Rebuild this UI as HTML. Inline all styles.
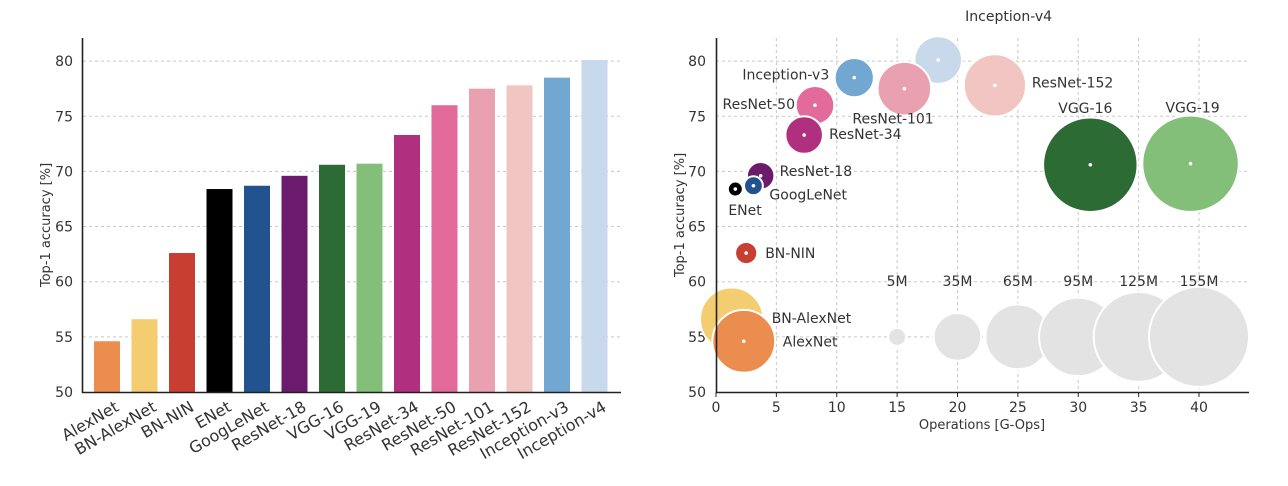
<!DOCTYPE html>
<html><head><meta charset="utf-8"><style>
body{margin:0;background:#fff;}
svg{display:block;font-family:"DejaVu Sans","Liberation Sans",sans-serif;}
</style></head><body>
<svg id="c" width="1288" height="486" viewBox="0 0 1288 486"></svg>
<script>
const models=["AlexNet","BN-AlexNet","BN-NIN","ENet","GoogLeNet","ResNet-18","VGG-16","VGG-19","ResNet-34","ResNet-50","ResNet-101","ResNet-152","Inception-v3","Inception-v4"];
const accuracy=[54.6,56.6,62.6,68.4,68.7,69.6,70.6,70.7,73.3,76.0,77.5,77.8,78.5,80.1];
const gops=[2.3,1.3,2.5,1.6,3.1,3.7,31.0,39.3,7.3,8.2,15.6,23.1,11.45,18.4];
const paramsM=[61,62,7.6,0.37,5.5,11.7,138,144,21.8,23,44.5,60,23.8,35];
const colors=["#ea8d4e","#f3cd6f","#c83f31","#000000","#23538f","#6b1a6c","#2d6b34","#83bf78","#b0307f","#e26b9c","#e9a1b1","#f1c5c1","#71a7d0","#c7d9ea"];
const yTicks=[50,55,60,65,70,75,80];
const xTicks=[0,5,10,15,20,25,30,35,40];
const legendParams=[5,35,65,95,125,155];
const legendLabels=["5M","35M","65M","95M","125M","155M"];
const legendX=[15,20,25,30,35,40];
// label offsets (px) from bubble centre: dx, dy, anchor
const lblOff=[[39,0,"start"],[40,-1,"start"],[19,0,"start"],[-7,21,"start"],[16,9,"start"],[19,-5,"start"],[-5,-57,"middle"],[2,-56,"middle"],[25,-1,"start"],[-20,-1,"end"],[-52,30,"start"],[37,-3,"start"],[-25,-3,"end"],[27,-44,"start"]];

const svg=document.getElementById('c');
const NS="http://www.w3.org/2000/svg";
function mk(t,a,p){const e=document.createElementNS(NS,t);for(const k in a)e.setAttribute(k,a[k]);(p||svg).appendChild(e);return e;}
const yS=v=>392-(v-50)*11.03;
// ---------- left bar chart ----------
const gl=mk('g',{});


yTicks.forEach(t=>{
  if(t>50){const g=mk('line',{x1:83,x2:620,y1:yS(t),y2:yS(t),stroke:'#c8c8c8','stroke-dasharray':'3,3','stroke-width':1},gl);
  }
  const tl=mk('text',{x:73,y:yS(t)+5,'text-anchor':'end','font-size':14,fill:'#333'},gl);tl.textContent=t;
  
});
const bx=i=>107+i*37.5;
models.forEach((m,i)=>{
  const r=mk('rect',{x:bx(i)-13,y:yS(accuracy[i]),width:26,height:392-yS(accuracy[i]),fill:colors[i]},gl);
  
  
  const ax0=bx(i)+13, ay0=410;
  const t=mk('text',{x:ax0,y:ay0,'text-anchor':'end','font-size':16,fill:'#333',transform:`rotate(-30 ${ax0} ${ay0})`},gl);t.textContent=m;
  
});
let ax=mk('line',{x1:82.5,x2:82.5,y1:38,y2:393,stroke:'#222','stroke-width':1.6},gl);

ax=mk('line',{x1:82,x2:621,y1:392.5,y2:392.5,stroke:'#222','stroke-width':1.6},gl);

let yt=mk('text',{x:50,y:225,'text-anchor':'middle','font-size':13,fill:'#333',transform:'rotate(-90 50 225)'},gl);yt.textContent='Top-1 accuracy [%]';

// ---------- right bubble chart ----------
const gr=mk('g',{});


const xS=v=>716+v*12.075;
const rad=p=>Math.max(7.5,4.02*Math.sqrt(p));
yTicks.forEach(t=>{
  if(t>50){const g=mk('line',{x1:716,x2:1248,y1:yS(t),y2:yS(t),stroke:'#c8c8c8','stroke-dasharray':'3,3'},gr);
  }
  const tl=mk('text',{x:706,y:yS(t)+5,'text-anchor':'end','font-size':14,fill:'#333'},gr);tl.textContent=t;
  
});
xTicks.forEach(t=>{
  if(t>0){const g=mk('line',{x1:xS(t),x2:xS(t),y1:38,y2:392,stroke:'#c8c8c8','stroke-dasharray':'3,3'},gr);
  }
  const tl=mk('text',{x:xS(t),y:412,'text-anchor':'middle','font-size':14,fill:'#333'},gr);tl.textContent=t;
  
});
legendParams.forEach((p,i)=>{
  const c=mk('circle',{cx:xS(legendX[i]),cy:yS(55),r:rad(p),fill:'#e3e3e3',stroke:'#fff','stroke-width':2},gr);
  
  const t=mk('text',{x:xS(legendX[i]),y:286,'text-anchor':'middle','font-size':14,fill:'#333'},gr);t.textContent=legendLabels[i];
  
});
const order=[11,6,7,13,10,12,9,8,5,4,3,2,1,0];
order.forEach(i=>{
  const cx=xS(gops[i]),cy=yS(accuracy[i]),r=rad(paramsM[i]);
  const c=mk('circle',{cx:cx,cy:cy,r:r,fill:colors[i],stroke:'#fff','stroke-width':2},gr);
  
  
  const d=mk('circle',{cx:cx,cy:cy,r:1.8,fill:'#fff'},gr);
  
});
models.forEach((m,i)=>{
  const o=lblOff[i];
  const t=mk('text',{x:xS(gops[i])+o[0],y:yS(accuracy[i])+o[1]+5,'text-anchor':o[2],'font-size':14,fill:'#333'},gr);t.textContent=m;
  
});
ax=mk('line',{x1:716.5,x2:716.5,y1:38,y2:393,stroke:'#222','stroke-width':1.6},gr);

ax=mk('line',{x1:716,x2:1249,y1:392.5,y2:392.5,stroke:'#222','stroke-width':1.6},gr);

xTicks.forEach(t=>{const k=mk('line',{x1:xS(t),x2:xS(t),y1:392,y2:397,stroke:'#222'},gr);});
yt=mk('text',{x:684,y:215,'text-anchor':'middle','font-size':13,fill:'#333',transform:'rotate(-90 684 215)'},gr);yt.textContent='Top-1 accuracy [%]';

const xt=mk('text',{x:982,y:429,'text-anchor':'middle','font-size':13,fill:'#333'},gr);xt.textContent='Operations [G-Ops]';

</script>
</body></html>
